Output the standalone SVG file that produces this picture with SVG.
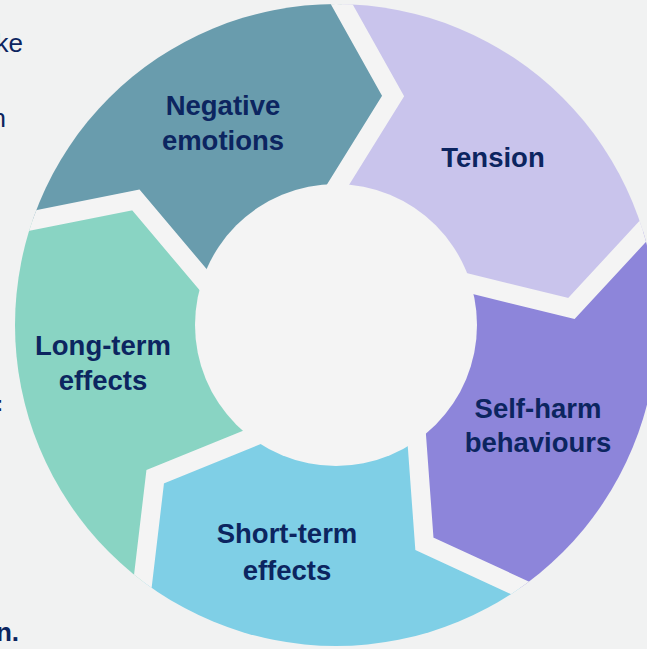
<svg xmlns="http://www.w3.org/2000/svg" width="647" height="649" viewBox="0 0 647 649">
  <style>
    .label { font-family: "Liberation Sans", Arial, sans-serif; font-weight: 700; font-size: 27.5px; fill: #0c2560; text-anchor: middle; }
    .side { font-family: "Liberation Sans", Arial, sans-serif; font-size: 26px; fill: #0c2560; text-anchor: end; }
    .gap { fill: none; stroke: #f4f4f4; stroke-width: 19; stroke-linejoin: miter; stroke-miterlimit: 10; }
  </style>
  <defs>
    <clipPath id="ring">
      <circle cx="336" cy="325" r="321"/>
    </clipPath>
  </defs>

  <!-- page background -->
  <rect x="0" y="0" width="647" height="649" fill="#f1f2f2"/>

  <!-- surrounding paragraph text, running in from the left edge -->
  <text class="side" x="23" y="52">ke</text>
  <text class="side" x="6" y="127">n</text>
  <text class="side" x="3" y="411" style="font-weight:700;font-size:20px">:</text>
  <text class="side" x="19" y="641" style="font-weight:700">n.</text>

  <!-- cycle segments -->
  <g clip-path="url(#ring)">
    <g id="node-negative-emotions">
      <path fill="#699cad" d="M336,325 L202.68,279.09 L135.86,199.94 L32.49,220.49 L-29.53,232.82 L-0.4,11.3 L156.3,-98.4 L310.71,-51.13 L341.60,4.05 L393.09,96.01 L338.46,184.02 Z"/>
    </g>
    <g id="node-tension">
      <path fill="#c9c4ec" d="M336,325 L338.46,184.02 L393.09,96.01 L341.60,4.05 L310.71,-51.13 L530.4,-91.9 L683.2,23.2 L685.89,184.72 L642.97,231.15 L571.43,308.54 L470.84,283.78 Z"/>
    </g>
    <g id="node-self-harm">
      <path fill="#8d85da" d="M336,325 L470.84,283.78 L571.43,308.54 L642.97,231.15 L685.89,184.72 L792.6,381.1 L730.3,561.9 L577.55,614.43 L520.12,587.95 L424.41,543.82 L416.87,440.50 Z"/>
    </g>
    <g id="node-short-term">
      <path fill="#7fcfe6" d="M336,325 L416.87,440.50 L424.41,543.82 L520.12,587.95 L577.55,614.43 L423.8,776.5 L232.5,773.2 L135.39,644.16 L142.82,581.36 L155.21,476.70 L251.14,437.61 Z"/>
    </g>
    <g id="node-long-term">
      <path fill="#89d4c3" d="M336,325 L251.14,437.61 L155.21,476.70 L142.82,581.36 L135.39,644.16 L-66.3,548.0 L-122.2,365.1 L-29.53,232.82 L32.49,220.49 L135.86,199.94 L202.68,279.09 Z"/>
    </g>

    <!-- separating gaps between the chevron segments -->
    <g id="gaps">
      <polyline class="gap" points="311.1,228.0 393.09,96.01 310.71,-51.13"/>
      <polyline class="gap" points="420.5,271.4 571.43,308.54 685.89,184.72"/>
      <polyline class="gap" points="413.1,388.8 424.41,543.82 577.55,614.43"/>
      <polyline class="gap" points="299.1,418.1 155.21,476.70 135.39,644.16"/>
      <polyline class="gap" points="236.1,318.7 135.86,199.94 -29.53,232.82"/>
    </g>
  </g>

  <!-- centre hole -->
  <circle cx="336" cy="325" r="141" fill="#f4f4f4"/>

  <!-- segment labels -->
  <g id="labels">
    <text class="label" x="223" y="115">Negative</text>
    <text class="label" x="223" y="150">emotions</text>
    <text class="label" x="493" y="167">Tension</text>
    <text class="label" x="538" y="418">Self-harm</text>
    <text class="label" x="538" y="452">behaviours</text>
    <text class="label" x="287" y="543">Short-term</text>
    <text class="label" x="287" y="580">effects</text>
    <text class="label" x="103" y="355">Long-term</text>
    <text class="label" x="103" y="390">effects</text>
  </g>
</svg>
